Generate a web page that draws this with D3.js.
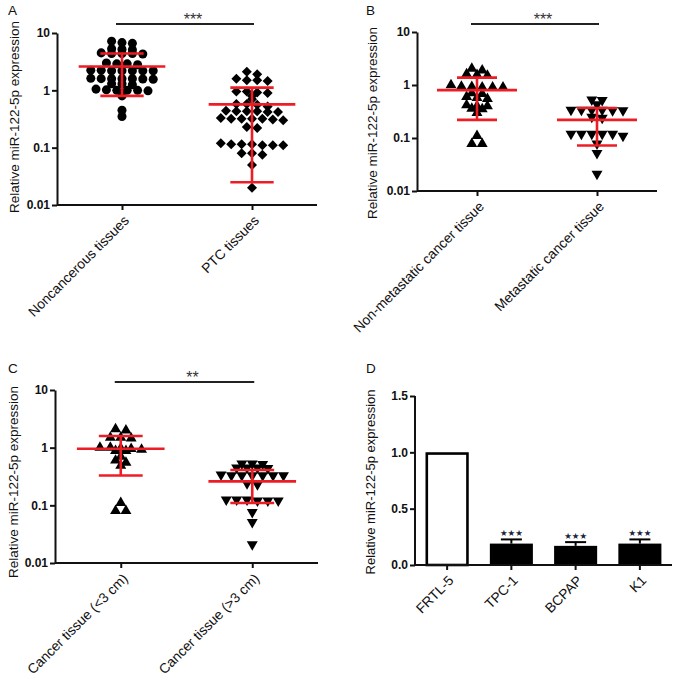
<!DOCTYPE html>
<html><head><meta charset="utf-8">
<script src="https://cdn.jsdelivr.net/npm/d3@7"></script>
<style>
body{margin:0;background:#fff}
svg{display:block}
text{font-family:"Liberation Sans",Arial,Helvetica,sans-serif}
</style>
</head><body>
<svg id="chart" width="677" height="682"></svg>
<script>
// ---------------- DATA ----------------
const yTitle = "Relative miR-122-5p expression";
const logTicks = [0.01, 0.1, 1, 10];
const logTickLabels = ["0.01", "0.1", "1", "10"];

// Panel A
const catsA = ["Noncancerous tissues", "PTC tissues"];
const noncancerous = [7.2, 6.8, 6.6, 5.3, 5.2, 5.1, 4.5, 4.4, 4.4, 4.4, 4.3, 3.0, 2.9, 2.9, 2.8,
  2.25, 2.25, 2.2, 2.2, 2.2, 2.2, 2.2, 1.62, 1.6, 1.6, 1.6, 1.6, 1.58, 1.56, 1.3, 1.3, 1.25,
  1.05, 1.02, 1.0, 1.0, 1.0, 0.98, 0.8, 0.45, 0.35];
const ptcTissues = [2.1, 1.9, 1.6, 1.5, 1.5, 1.45, 0.95, 0.95, 0.92, 0.9, 0.8, 0.7, 0.58, 0.58, 0.56, 0.52,
  0.44, 0.43, 0.43, 0.43, 0.42, 0.42, 0.33, 0.32, 0.32, 0.32, 0.32, 0.31, 0.3, 0.23, 0.22,
  0.12, 0.115, 0.115, 0.115, 0.11, 0.11, 0.11, 0.08, 0.08, 0.075, 0.05, 0.02];
const meanA = [2.6, 0.57];
const sdA = [1.8, 0.545];
const sigA = "***";

// Panel B
const catsB = ["Non-metastatic cancer tissue", "Metastatic cancer tissue"];
const nonMetastatic = [2.05, 1.9, 1.6, 1.55, 1.5, 1.0, 0.93, 0.92, 0.9, 0.9, 0.9, 0.7, 0.68,
  0.6, 0.57, 0.55, 0.42, 0.4, 0.4, 0.36, 0.35, 0.3, 0.11, 0.078, 0.078];
const metastatic = [0.53, 0.52, 0.43, 0.34, 0.34, 0.34, 0.34, 0.33, 0.33, 0.25, 0.24,
  0.12, 0.12, 0.12, 0.12, 0.12, 0.11, 0.078, 0.052, 0.021];
const meanB = [0.80, 0.22];
const sdB = [0.58, 0.148];
const sigB = "***";

// Panel C
const catsC = ["Cancer tissue (<3 cm)", "Cancer tissue (>3 cm)"];
const smallTumor = [2.1, 2.0, 1.5, 1.5, 1.45, 1.0, 1.0, 0.97, 0.95, 0.93, 0.88, 0.88, 0.7, 0.6, 0.55, 0.49,
  0.11, 0.08, 0.08];
const largeTumor = [0.53, 0.53, 0.52, 0.45, 0.45, 0.45, 0.44, 0.34, 0.33, 0.33, 0.33, 0.33, 0.33, 0.33,
  0.24, 0.23, 0.125, 0.125, 0.125, 0.12, 0.12, 0.12, 0.076, 0.051, 0.021];
const meanC = [0.96, 0.26];
const sdC = [0.63, 0.15];
const sigC = "**";

// Panel D
const cellLines = ["FRTL-5", "TPC-1", "BCPAP", "K1"];
const cellValues = [1.0, 0.19, 0.17, 0.19];
const cellErrors = [0, 0.037, 0.033, 0.037];
const cellSig = ["", "\u2605\u2605\u2605", "\u2605\u2605\u2605", "\u2605\u2605\u2605"];
const linTicks = [0, 0.5, 1.0, 1.5];

// ---------------- DRAWING ----------------
const svg = d3.select("#chart");
const RED = "#ee1c24";
const INK = "#111";

function styleAxis(g) {
  g.selectAll(".domain").attr("stroke", INK).attr("stroke-width", 2);
  g.selectAll(".tick line").attr("stroke", INK).attr("stroke-width", 2);
}

function swarm(values, y, step, thr) {
  const pts = values.map(v => ({v, y: y(v)})).sort((a, b) => a.y - b.y);
  const rows = [];
  pts.forEach(p => {
    const r = rows[rows.length - 1];
    if (r && p.y - r[0].y <= thr) r.push(p); else rows.push([p]);
  });
  rows.forEach(r => r.forEach((p, i) => p.dx = (i - (r.length - 1) / 2) * step));
  return pts;
}

const symCircle = d3.symbol(d3.symbolCircle, 64)();
const symSquare = d3.symbol(d3.symbolSquare, 50)();
const symTri = d3.symbol(d3.symbolTriangle, 52)();
const shapes = {
  circle: {d: symCircle, rot: 0},
  diamond: {d: symSquare, rot: 45},
  up: {d: symTri, rot: 0},
  down: {d: symTri, rot: 180}
};

function yTitleText(x, cy, size) {
  svg.append("text")
    .attr("transform", `translate(${x},${cy}) rotate(-90)`)
    .attr("text-anchor", "middle").attr("dy", "0.35em")
    .attr("font-size", size).attr("fill", INK)
    .text(yTitle);
}

function letter(t, x, y) {
  svg.append("text").attr("x", x).attr("y", y).attr("font-size", 13.5).attr("fill", INK).text(t);
}

function scatterPanel(o) {
  const y = d3.scaleLog().domain([0.01, 10]).range([o.y0, o.y1]);
  const x = d3.scalePoint().domain(o.cats).range([o.x0, o.x1]).padding(0.5);
  const step = x.step();

  // y axis
  const gy = svg.append("g").attr("transform", `translate(${o.x0},0)`)
    .call(d3.axisLeft(y).tickValues(logTicks).tickFormat((d, i) => logTickLabels[i]).tickSize(5).tickSizeOuter(0));
  styleAxis(gy);
  gy.selectAll("text").attr("font-size", 12).attr("font-weight", "bold").attr("fill", INK).attr("x", -7);

  // x axis
  const gx = svg.append("g").attr("transform", `translate(0,${o.y0})`)
    .call(d3.axisBottom(x).tickSize(5).tickSizeOuter(0));
  styleAxis(gx);
  gx.selectAll(".domain").attr("d", `M${o.x0},0H${o.x1}`);
  gx.selectAll("text")
    .attr("x", 0).attr("y", 0).attr("dy", "0.35em")
    .attr("text-anchor", "end")
    .attr("transform", "translate(4,13) rotate(-45)")
    .attr("font-size", 13.8).attr("fill", INK);

  // points
  o.groups.forEach((vals, gi) => {
    const cx = x(o.cats[gi]);
    const pts = swarm(vals, y, 10.4, 3);
    const sh = shapes[o.shapes[gi]];
    svg.append("g").selectAll("path").data(pts).join("path")
      .attr("d", sh.d)
      .attr("transform", p => `translate(${cx + p.dx},${p.y}) rotate(${sh.rot})`)
      .attr("fill", "#000");
  });

  // mean +/- SD
  const gr = svg.append("g").attr("stroke", RED).attr("stroke-width", 2.6).attr("fill", "none");
  o.cats.forEach((c, i) => {
    const cx = x(c);
    const m = o.means[i], s = o.sds[i];
    const hi = y(m + s), lo = y(Math.max(m - s, 0.01));
    const mw = step / 3, cw = step / 6;
    gr.append("line").attr("x1", cx - mw).attr("x2", cx + mw).attr("y1", y(m)).attr("y2", y(m));
    gr.append("line").attr("x1", cx).attr("x2", cx).attr("y1", hi).attr("y2", lo);
    gr.append("line").attr("x1", cx - cw).attr("x2", cx + cw).attr("y1", hi).attr("y2", hi);
    gr.append("line").attr("x1", cx - cw).attr("x2", cx + cw).attr("y1", lo).attr("y2", lo);
  });

  // significance
  const a = x(o.cats[0]), b = x(o.cats[1]);
  svg.append("line").attr("x1", a - 6).attr("x2", b + 2).attr("y1", o.sigY).attr("y2", o.sigY)
    .attr("stroke", "#222").attr("stroke-width", 2);
  svg.append("text").attr("x", (a + b) / 2 + 6).attr("y", o.sigY + 1)
    .attr("text-anchor", "middle").attr("font-size", 16).attr("fill", "#333").text(o.sig);

  yTitleText(o.titleX, o.titleY, 13.5);
  letter(o.letter, o.lx, o.ly);
}

scatterPanel({cats: catsA, groups: [noncancerous, ptcTissues], shapes: ["circle", "diamond"],
  means: meanA, sds: sdA, sig: sigA, x0: 57, x1: 317, y0: 205, y1: 33, sigY: 24,
  titleX: 14, titleY: 117, letter: "A", lx: 8, ly: 15});
scatterPanel({cats: catsB, groups: [nonMetastatic, metastatic], shapes: ["up", "down"],
  means: meanB, sds: sdB, sig: sigB, x0: 417, x1: 657, y0: 191, y1: 32, sigY: 24,
  titleX: 372, titleY: 123, letter: "B", lx: 366, ly: 15});
scatterPanel({cats: catsC, groups: [smallTumor, largeTumor], shapes: ["up", "down"],
  means: meanC, sds: sdC, sig: sigC, x0: 55, x1: 318, y0: 563, y1: 390, sigY: 382,
  titleX: 13, titleY: 482, letter: "C", lx: 8, ly: 373});

// Panel D: bar chart
(function () {
  const x0 = 415, x1 = 672, y0 = 565, y1 = 396;
  const x = d3.scaleBand().domain(cellLines).range([x0, x1]).paddingInner(0.33).paddingOuter(0.165);
  const y = d3.scaleLinear().domain([0, 1.5]).range([y0, y1]);

  const bars = cellLines.map((c, i) => ({c, v: cellValues[i], e: cellErrors[i], s: cellSig[i], i}));
  svg.append("g").selectAll("rect").data(bars).join("rect")
    .attr("x", d => x(d.c) + (d.i === 0 ? 1.2 : 0))
    .attr("width", d => x.bandwidth() - (d.i === 0 ? 2.4 : 0))
    .attr("y", d => y(d.v) + (d.i === 0 ? 1.2 : 0))
    .attr("height", d => y0 - y(d.v) - (d.i === 0 ? 1.2 : 0))
    .attr("fill", d => d.i === 0 ? "#fff" : "#000")
    .attr("stroke", "#000").attr("stroke-width", d => d.i === 0 ? 2.6 : 0);

  const ge = svg.append("g").attr("stroke", "#000").attr("stroke-width", 2);
  bars.filter(d => d.e > 0).forEach(d => {
    const cx = x(d.c) + x.bandwidth() / 2;
    ge.append("line").attr("x1", cx).attr("x2", cx).attr("y1", y(d.v)).attr("y2", y(d.v + d.e));
    ge.append("line").attr("x1", cx - 10.5).attr("x2", cx + 10.5).attr("y1", y(d.v + d.e)).attr("y2", y(d.v + d.e));
  });
  svg.append("g").selectAll("text").data(bars.filter(d => d.s)).join("text")
    .attr("x", d => x(d.c) + x.bandwidth() / 2)
    .attr("y", d => y(d.v + d.e) - 3)
    .attr("text-anchor", "middle")
    .style("font-family", "'DejaVu Sans', sans-serif")
    .attr("font-size", 8.5).attr("fill", "#1c2340").text(d => d.s);

  const gy = svg.append("g").attr("transform", `translate(${x0},0)`)
    .call(d3.axisLeft(y).tickValues(linTicks).tickFormat(d3.format(".1f")).tickSize(5).tickSizeOuter(0));
  styleAxis(gy);
  gy.selectAll(".domain").attr("d", `M0,${y0}V${y1}`);
  gy.selectAll("text").attr("font-size", 12).attr("font-weight", "bold").attr("fill", INK).attr("x", -7);

  const gx = svg.append("g").attr("transform", `translate(0,${y0})`)
    .call(d3.axisBottom(x).tickSize(5).tickSizeOuter(0));
  styleAxis(gx);
  gx.selectAll(".domain").attr("d", `M${x0},0H${x1}`);
  gx.selectAll("text")
    .attr("x", 0).attr("y", 0).attr("dy", "0.35em")
    .attr("text-anchor", "end")
    .attr("transform", "translate(4,13) rotate(-45)")
    .attr("font-size", 13.8).attr("fill", INK);

  yTitleText(370, 482, 13);
  letter("D", 366, 373);
})();
</script>
</body></html>
